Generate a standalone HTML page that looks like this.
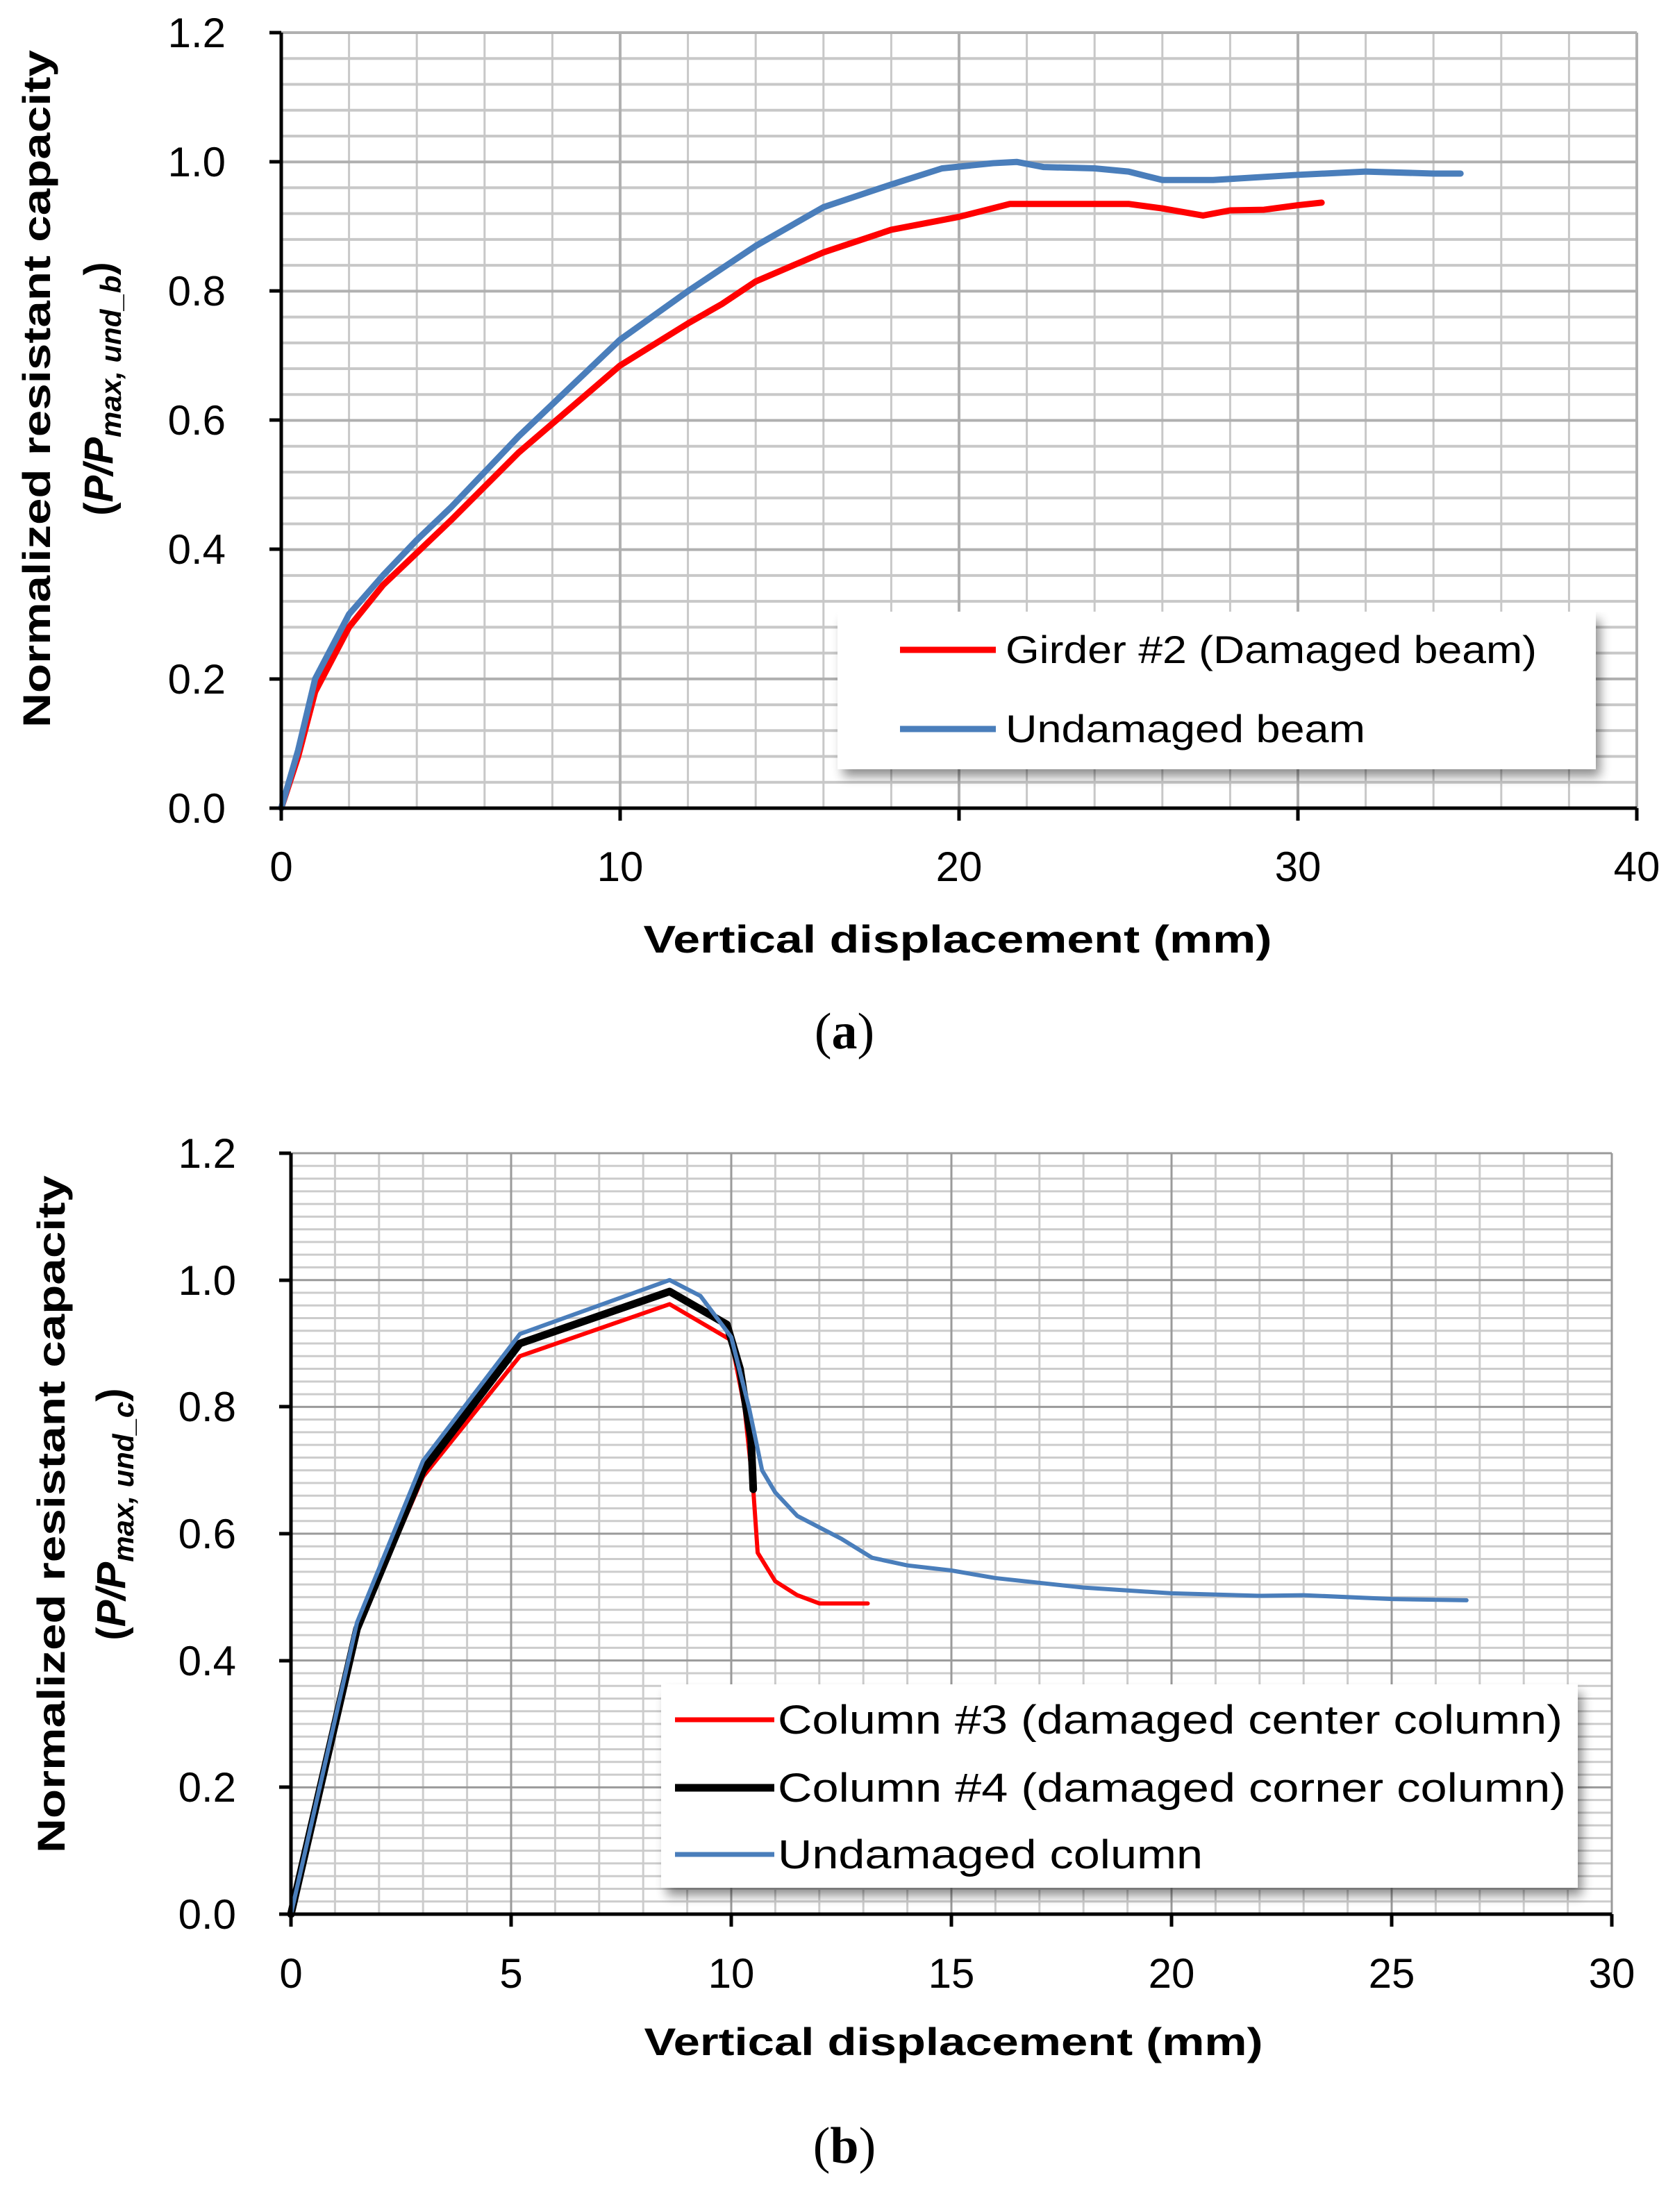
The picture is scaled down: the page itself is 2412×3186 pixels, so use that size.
<!DOCTYPE html>
<html><head><meta charset="utf-8"><style>
html,body{margin:0;padding:0;background:#fff;}
svg{display:block;}
text{font-family:"Liberation Sans",Arial,sans-serif;fill:#000;}
</style></head><body>
<svg width="2412" height="3186" viewBox="0 0 2412 3186" xmlns="http://www.w3.org/2000/svg">
<defs>
<filter id="sh" x="-5%" y="-5%" width="115%" height="125%"><feGaussianBlur stdDeviation="8"/></filter>
</defs>

<!-- ===== Chart (a) ===== -->
<g transform="translate(405,1164) scale(48.8,-930.8)" fill="none">
  <g stroke="#c8c8c8" vector-effect="non-scaling-stroke">
    <path vector-effect="non-scaling-stroke" stroke-width="3" d="M2,0V1.2M4,0V1.2M6,0V1.2M8,0V1.2M12,0V1.2M14,0V1.2M16,0V1.2M18,0V1.2M22,0V1.2M24,0V1.2M26,0V1.2M28,0V1.2M32,0V1.2M34,0V1.2M36,0V1.2M38,0V1.2"/>
    <path vector-effect="non-scaling-stroke" stroke-width="4" d="M0,0.04H40M0,0.08H40M0,0.12H40M0,0.16H40M0,0.24H40M0,0.28H40M0,0.32H40M0,0.36H40M0,0.44H40M0,0.48H40M0,0.52H40M0,0.56H40M0,0.64H40M0,0.68H40M0,0.72H40M0,0.76H40M0,0.84H40M0,0.88H40M0,0.92H40M0,0.96H40M0,1.04H40M0,1.08H40M0,1.12H40M0,1.16H40"/>
    <path vector-effect="non-scaling-stroke" stroke="#b0b0b0" stroke-width="4" d="M10,0V1.2M20,0V1.2M30,0V1.2M40,0V1.2M0,0.2H40M0,0.4H40M0,0.6H40M0,0.8H40M0,1.0H40M0,1.2H40"/>
  </g>
</g>
<rect x="1214" y="893" width="1090" height="225" fill="#000" opacity="0.45" filter="url(#sh)"/>
<rect x="1206" y="881" width="1092" height="227" fill="#fff"/>
<g transform="translate(405,1164) scale(48.8,-930.8)" fill="none" stroke-linejoin="round" stroke-linecap="round">
  <polyline vector-effect="non-scaling-stroke" stroke="#ff0000" stroke-width="9" points="0,0 0.5,0.08 1,0.18 2,0.28 3,0.345 4,0.395 5,0.445 7,0.55 9,0.64 10,0.685 12,0.75 13,0.78 14,0.815 16,0.86 18,0.895 20,0.915 21.5,0.935 25,0.935 26,0.928 27.2,0.917 28,0.925 29,0.926 30,0.933 30.7,0.937"/>
  <polyline vector-effect="non-scaling-stroke" stroke="#4a7ebb" stroke-width="9" points="0,0 0.5,0.09 1,0.2 2,0.3 3,0.36 4,0.415 5,0.465 7,0.575 9,0.675 10,0.725 12,0.8 14,0.87 16,0.93 18,0.965 19.5,0.99 21,0.998 21.7,1.0 22.5,0.992 24,0.99 25,0.985 26,0.972 27.5,0.972 30,0.98 32,0.985 34,0.982 34.8,0.982"/>
</g>
<path d="M405,47V1164H2357M388,47H405M388,233H405M388,419H405M388,605H405M388,791H405M388,978H405M388,1164H405M405,1164V1182M893,1164V1182M1381,1164V1182M1869,1164V1182M2357,1164V1182" stroke="#000" stroke-width="5" fill="none"/>
<g font-size="60" text-anchor="end">
<text x="325" y="68">1.2</text><text x="325" y="254">1.0</text><text x="325" y="440">0.8</text><text x="325" y="626">0.6</text><text x="325" y="812">0.4</text><text x="325" y="999">0.2</text><text x="325" y="1185">0.0</text>
</g>
<g font-size="60" text-anchor="middle">
<text x="405" y="1269">0</text><text x="893" y="1269">10</text><text x="1381" y="1269">20</text><text x="1869" y="1269">30</text><text x="2357" y="1269">40</text>
</g>
<path d="M1296,936H1434" stroke="#ff0000" stroke-width="9"/>
<path d="M1296,1050H1434" stroke="#4a7ebb" stroke-width="9"/>
<text x="1448" y="955" font-size="56" textLength="765" lengthAdjust="spacingAndGlyphs">Girder #2 (Damaged beam)</text>
<text x="1448" y="1069" font-size="56" textLength="518" lengthAdjust="spacingAndGlyphs">Undamaged beam</text>
<text x="1379" y="1372" font-size="56" font-weight="bold" text-anchor="middle" textLength="905" lengthAdjust="spacingAndGlyphs">Vertical displacement (mm)</text>
<text transform="translate(72,560) rotate(-90)" font-size="56" font-weight="bold" text-anchor="middle" textLength="976" lengthAdjust="spacingAndGlyphs">Normalized resistant capacity</text>
<text transform="translate(162,560) rotate(-90)" font-size="58" font-weight="bold" text-anchor="middle">(<tspan font-style="italic">P/P</tspan><tspan font-style="italic" font-size="42" dy="12">max, und_b</tspan><tspan dy="-12">)</tspan></text>
<text x="1216" y="1510" font-size="74" text-anchor="middle" style="font-family:'Liberation Serif',serif">(<tspan font-weight="bold">a</tspan>)</text>

<!-- ===== Chart (b) ===== -->
<g transform="translate(419,2757) scale(63.4,-913.3)" fill="none">
  <path vector-effect="non-scaling-stroke" stroke="#cccccc" stroke-width="3" d="M1,0V1.2M2,0V1.2M3,0V1.2M4,0V1.2M6,0V1.2M7,0V1.2M8,0V1.2M9,0V1.2M11,0V1.2M12,0V1.2M13,0V1.2M14,0V1.2M16,0V1.2M17,0V1.2M18,0V1.2M19,0V1.2M21,0V1.2M22,0V1.2M23,0V1.2M24,0V1.2M26,0V1.2M27,0V1.2M28,0V1.2M29,0V1.2"/>
  <path vector-effect="non-scaling-stroke" stroke="#cccccc" stroke-width="3" d="M0,0.02H30M0,0.04H30M0,0.06H30M0,0.08H30M0,0.1H30M0,0.12H30M0,0.14H30M0,0.16H30M0,0.18H30M0,0.22H30M0,0.24H30M0,0.26H30M0,0.28H30M0,0.3H30M0,0.32H30M0,0.34H30M0,0.36H30M0,0.38H30M0,0.42H30M0,0.44H30M0,0.46H30M0,0.48H30M0,0.5H30M0,0.52H30M0,0.54H30M0,0.56H30M0,0.58H30M0,0.62H30M0,0.64H30M0,0.66H30M0,0.68H30M0,0.7H30M0,0.72H30M0,0.74H30M0,0.76H30M0,0.78H30M0,0.82H30M0,0.84H30M0,0.86H30M0,0.88H30M0,0.9H30M0,0.92H30M0,0.94H30M0,0.96H30M0,0.98H30M0,1.02H30M0,1.04H30M0,1.06H30M0,1.08H30M0,1.1H30M0,1.12H30M0,1.14H30M0,1.16H30M0,1.18H30"/>
  <path vector-effect="non-scaling-stroke" stroke="#9a9a9a" stroke-width="3" d="M5,0V1.2M10,0V1.2M15,0V1.2M20,0V1.2M25,0V1.2M30,0V1.2M0,0.2H30M0,0.4H30M0,0.6H30M0,0.8H30M0,1.0H30M0,1.2H30"/>
</g>
<rect x="960" y="2438" width="1318" height="292" fill="#000" opacity="0.45" filter="url(#sh)"/>
<rect x="952" y="2426" width="1320" height="293" fill="#fff"/>
<g transform="translate(419,2757) scale(63.4,-913.3)" fill="none" stroke-linejoin="round" stroke-linecap="round">
  <polyline vector-effect="non-scaling-stroke" stroke="#ff0000" stroke-width="6" points="0,0 1.5,0.45 3,0.69 5.2,0.88 8.6,0.962 10,0.905 10.3,0.8 10.5,0.67 10.6,0.57 11,0.525 11.5,0.503 12,0.49 13.1,0.49"/>
  <polyline vector-effect="non-scaling-stroke" stroke="#000" stroke-width="11" points="0,0 1.5,0.45 3,0.7 5.2,0.9 8.6,0.982 9.9,0.93 10.2,0.86 10.45,0.75 10.5,0.67"/>
  <polyline vector-effect="non-scaling-stroke" stroke="#4a7ebb" stroke-width="6" points="0,0 1.5,0.46 3,0.715 5.2,0.915 8.6,1.0 9.3,0.975 10,0.91 10.4,0.8 10.7,0.7 11,0.665 11.5,0.628 12.5,0.592 13.2,0.562 14,0.55 15,0.542 16,0.53 18,0.515 20,0.506 22,0.502 23,0.503 25,0.497 26.7,0.495"/>
</g>
<path d="M419,1661V2757H2321M402,1661H419M402,1844H419M402,2026H419M402,2209H419M402,2392H419M402,2574H419M402,2757H419M419,2757V2775M736,2757V2775M1053,2757V2775M1370,2757V2775M1687,2757V2775M2004,2757V2775M2321,2757V2775" stroke="#000" stroke-width="5" fill="none"/>
<g font-size="60" text-anchor="end">
<text x="340" y="1682">1.2</text><text x="340" y="1865">1.0</text><text x="340" y="2047">0.8</text><text x="340" y="2230">0.6</text><text x="340" y="2413">0.4</text><text x="340" y="2595">0.2</text><text x="340" y="2778">0.0</text>
</g>
<g font-size="60" text-anchor="middle">
<text x="419" y="2863">0</text><text x="736" y="2863">5</text><text x="1053" y="2863">10</text><text x="1370" y="2863">15</text><text x="1687" y="2863">20</text><text x="2004" y="2863">25</text><text x="2321" y="2863">30</text>
</g>
<path d="M972,2477H1115" stroke="#ff0000" stroke-width="7"/>
<path d="M972,2575H1115" stroke="#000" stroke-width="11"/>
<path d="M972,2671H1115" stroke="#4a7ebb" stroke-width="7"/>
<text x="1120" y="2497" font-size="58" textLength="1130" lengthAdjust="spacingAndGlyphs">Column #3 (damaged center column)</text>
<text x="1120" y="2595" font-size="58" textLength="1135" lengthAdjust="spacingAndGlyphs">Column #4 (damaged corner column)</text>
<text x="1120" y="2691" font-size="58" textLength="612" lengthAdjust="spacingAndGlyphs">Undamaged column</text>
<text x="1373" y="2960" font-size="56" font-weight="bold" text-anchor="middle" textLength="891" lengthAdjust="spacingAndGlyphs">Vertical displacement (mm)</text>
<text transform="translate(93,2181) rotate(-90)" font-size="56" font-weight="bold" text-anchor="middle" textLength="976" lengthAdjust="spacingAndGlyphs">Normalized resistant capacity</text>
<text transform="translate(180,2181) rotate(-90)" font-size="58" font-weight="bold" text-anchor="middle">(<tspan font-style="italic">P/P</tspan><tspan font-style="italic" font-size="42" dy="12">max, und_c</tspan><tspan dy="-12">)</tspan></text>
<text x="1216" y="3115" font-size="74" text-anchor="middle" style="font-family:'Liberation Serif',serif">(<tspan font-weight="bold">b</tspan>)</text>
</svg>
</body></html>
